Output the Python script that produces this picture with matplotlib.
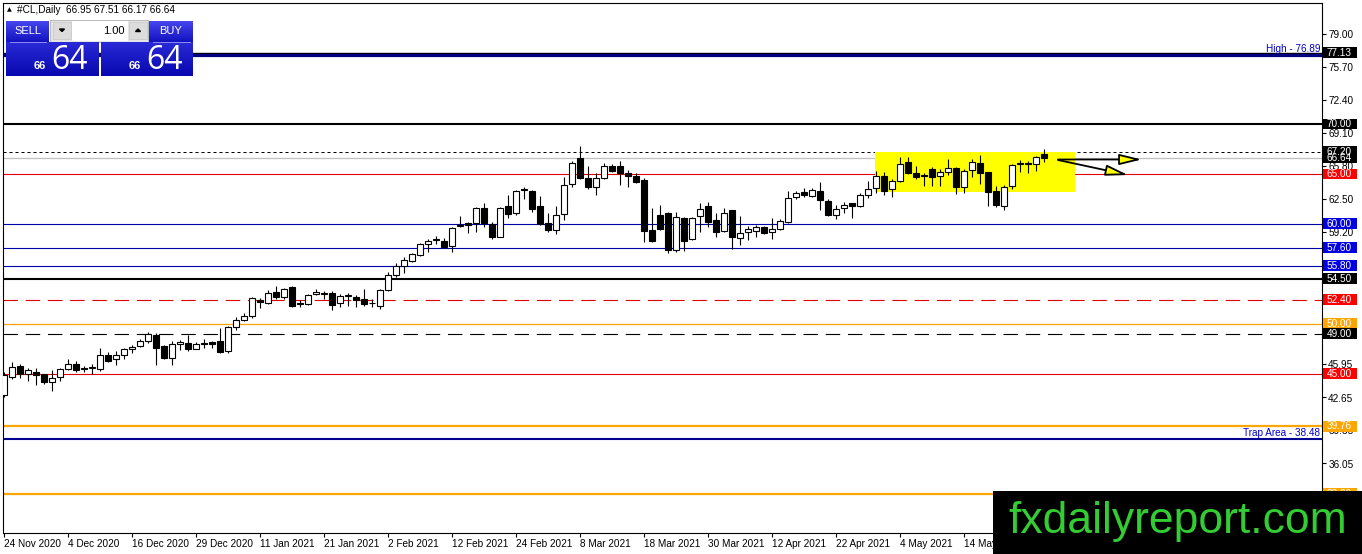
import numpy as np
import matplotlib
matplotlib.use('Agg')
import matplotlib.pyplot as plt
from matplotlib import transforms
from matplotlib.colors import to_rgb
from matplotlib.patches import Rectangle, Polygon

plt.rcParams['font.family'] = ['Liberation Sans', 'DejaVu Sans']

# daily OHLC, 24 Nov 2020 .. end of May 2021
opens = [42.9, 44.7, 45.8, 45.0, 45.2, 45.0, 44.2, 44.7, 45.5, 46.0,
         45.5, 45.6, 45.5, 46.9, 46.5, 46.9, 47.5, 47.8, 48.3, 48.9,
         47.8, 46.6, 48.0, 48.1, 47.5, 48.1, 48.2, 48.3, 47.3, 49.7,
         50.4, 50.8, 52.4, 52.1, 53.2, 52.7, 53.7, 52.0, 52.0, 53.0,
         53.0, 53.1, 52.1, 52.8, 52.7, 52.5, 52.1, 51.8, 53.4, 54.9,
         55.8, 56.3, 56.9, 58.0, 58.4, 58.3, 57.8, 59.8, 60.1, 60.1,
         61.6, 60.0, 58.7, 61.8, 61.1, 63.4, 63.3, 61.8, 60.1, 59.4,
         61.0, 64.0, 66.6, 64.6, 63.7, 64.6, 65.8, 65.8, 65.1, 64.8,
         64.4, 59.4, 60.9, 61.1, 57.4, 60.6, 58.5, 60.8, 61.8, 60.4,
         59.3, 61.4, 58.6, 59.2, 59.3, 59.7, 59.2, 59.5, 60.2, 62.7,
         63.2, 62.8, 63.3, 62.3, 60.9, 61.6, 62.1, 61.8, 62.9, 63.6,
         64.8, 63.5, 64.3, 66.2, 65.1, 64.9, 65.5, 64.8, 65.2, 65.6,
         63.7, 65.4, 66.1, 65.2, 63.3, 61.8, 63.8, 66.0, 66.0, 66.0,
         66.95]
highs = [45.2, 46.2, 46.0, 45.6, 45.6, 45.0, 45.4, 45.6, 46.5, 46.3,
         45.8, 46.0, 47.6, 47.2, 47.3, 47.6, 47.9, 48.5, 49.2, 49.1,
         47.9, 48.3, 48.4, 48.9, 48.2, 48.5, 48.3, 49.6, 49.8, 50.7,
         51.1, 52.7, 52.6, 53.4, 53.8, 53.6, 53.8, 52.4, 53.0, 53.5,
         53.3, 53.3, 53.0, 53.1, 52.9, 53.5, 52.5, 53.5, 55.2, 56.1,
         56.7, 57.1, 58.1, 58.5, 58.8, 58.6, 59.7, 60.8, 60.2, 61.7,
         62.1, 60.2, 61.7, 62.9, 63.4, 63.7, 63.4, 62.8, 61.1, 61.8,
         64.7, 66.3, 67.8, 65.8, 65.1, 66.1, 66.0, 66.3, 65.4, 65.1,
         64.6, 61.6, 61.9, 61.2, 61.2, 60.7, 60.7, 62.1, 62.2, 61.1,
         61.6, 61.4, 60.8, 59.8, 59.9, 59.8, 60.6, 60.5, 63.3, 63.3,
         63.6, 63.6, 64.2, 62.5, 61.9, 62.2, 62.1, 63.1, 64.3, 65.3,
         65.2, 64.5, 66.7, 66.7, 65.8, 65.1, 65.7, 65.5, 66.5, 65.7,
         65.5, 66.5, 66.9, 65.2, 63.8, 63.9, 66.0, 66.4, 66.3, 66.8,
         67.51]
lows = [42.7, 44.5, 44.6, 44.3, 43.9, 44.0, 43.3, 44.3, 45.4, 45.2,
        45.2, 45.0, 45.3, 46.2, 45.9, 46.5, 47.1, 47.7, 48.1, 45.9,
        46.5, 45.9, 47.4, 47.3, 47.5, 47.6, 47.6, 47.1, 47.1, 49.4,
        50.3, 50.6, 51.6, 52.0, 52.5, 52.5, 51.7, 51.7, 51.9, 52.9,
        52.5, 51.4, 51.7, 51.8, 51.7, 51.8, 51.7, 51.5, 53.3, 54.7,
        55.1, 56.2, 56.8, 57.2, 58.0, 57.6, 57.2, 59.7, 59.1, 59.2,
        59.7, 58.5, 58.7, 60.6, 60.9, 62.5, 61.2, 59.9, 59.2, 59.0,
        60.4, 63.7, 64.5, 63.5, 62.9, 64.5, 65.2, 63.9, 63.7, 64.1,
        58.2, 58.2, 59.4, 57.1, 57.2, 57.3, 58.4, 59.2, 59.7, 58.7,
        59.2, 57.5, 57.9, 58.4, 58.7, 59.0, 58.5, 59.4, 60.1, 62.5,
        62.7, 62.7, 61.4, 60.8, 60.5, 61.1, 60.6, 61.7, 62.6, 63.1,
        62.9, 62.7, 64.2, 65.0, 64.5, 63.8, 63.8, 63.8, 64.9, 63.0,
        63.1, 64.7, 64.0, 61.8, 61.7, 61.4, 63.5, 65.2, 65.1, 65.3,
        66.17]
closes = [44.9, 45.7, 45.0, 45.4, 44.9, 44.2, 44.6, 45.5, 46.0, 45.4,
          45.6, 45.65, 46.9, 46.3, 46.9, 47.5, 47.7, 48.3, 49.0, 47.6,
          46.6, 48.0, 48.2, 47.5, 48.0, 48.0, 48.0, 47.2, 49.7, 50.4,
          50.8, 52.6, 52.2, 53.1, 52.7, 53.5, 51.8, 52.1, 52.9, 53.2,
          53.05, 51.9, 52.8, 52.85, 52.4, 52.0, 52.05, 53.4, 54.9, 55.8,
          56.4, 57.0, 58.0, 58.3, 58.45, 57.7, 59.6, 59.9, 59.9, 61.6,
          60.1, 58.7, 61.6, 61.0, 63.3, 63.45, 61.5, 60.0, 59.4, 60.9,
          63.9, 66.1, 64.6, 63.7, 64.6, 65.8, 65.3, 65.1, 64.8, 64.2,
          59.3, 58.3, 59.5, 57.4, 60.7, 58.3, 60.6, 61.5, 60.2, 59.2,
          61.1, 58.7, 59.1, 59.5, 59.7, 59.1, 59.5, 60.3, 62.6, 63.1,
          62.9, 63.4, 62.4, 60.9, 61.5, 61.9, 61.8, 62.9, 63.5, 64.8,
          63.3, 64.3, 66.0, 65.1, 64.7, 64.75, 64.7, 65.2, 65.6, 63.7,
          65.3, 66.2, 65.1, 63.2, 61.9, 63.7, 65.9, 66.1, 66.1, 66.7,
          66.64]

date_labels = ['24 Nov 2020', '4 Dec 2020', '16 Dec 2020', '29 Dec 2020',
               '11 Jan 2021', '21 Jan 2021', '2 Feb 2021', '12 Feb 2021',
               '24 Feb 2021', '8 Mar 2021', '18 Mar 2021', '30 Mar 2021',
               '12 Apr 2021', '22 Apr 2021', '4 May 2021', '14 May 2021']
bars_per_label = 8

ytick_values = [79.00, 75.70, 72.40, 69.10, 65.80, 62.50, 59.20, 55.90,
                52.60, 49.30, 45.95, 42.65, 39.35, 36.05, 32.75]

# horizontal levels drawn on the chart
level_prices = [77.13, 76.89, 70.00, 67.20, 66.64, 65.00, 60.00, 57.60,
                55.80, 54.50, 52.40, 50.00, 49.00, 45.00, 39.76, 38.48, 33.00]
level_kinds = ['black', 'navy', 'black2', 'dots', 'bid', 'red', 'blue', 'blue',
               'blue', 'black2', 'reddash', 'orange', 'blackdash', 'red',
               'orange2', 'trap', 'orange2']

# zone box and the two arrows (bar index, price)
zone_x = (108.9, 133.9)
zone_y = (63.2, 67.15)
arrow_up = ((131.75, 66.45), (142.2, 66.45))
arrow_down = ((131.75, 66.4), (140.5, 64.9))

styles = {
    'black':     dict(color='black', lw=1.0, ls='-', tag='black'),
    'navy':      dict(color='#000080', lw=2.3, ls='-', tag=None),
    'black2':    dict(color='black', lw=1.5, ls='-', tag='black'),
    'dots':      dict(color='black', lw=0.72, ls=(0, (3, 3)), tag='black'),
    'bid':       dict(color='#c0c0c0', lw=0.9, ls='-', tag='black'),
    'red':       dict(color='#e00000', lw=0.8, ls='-', tag='#ff0000'),
    'blue':      dict(color='#0000a8', lw=0.8, ls='-', tag='#0000e0'),
    'reddash':   dict(color='#e00000', lw=0.8, ls=(0, (13, 7)), tag='#ff0000'),
    'orange':    dict(color='#ffa500', lw=0.9, ls='-', tag='#ffa500'),
    'blackdash': dict(color='black', lw=0.8, ls=(0, (13, 7)), tag='black'),
    'orange2':   dict(color='#ffa500', lw=1.6, ls='-', tag='#ffa500'),
    'trap':      dict(color='#000090', lw=1.5, ls='-', tag=None),
}

W, H = 1362, 554
fig = plt.figure(figsize=(W / 100, H / 100), dpi=100, facecolor='white')
ax = fig.add_axes([3 / W, 21 / H, 1319 / W, 530 / H])
ax.set_xlim(-0.125, 164.75)
ax.set_ylim(29.1, 82.1)
for sp in ax.spines.values():
    sp.set_color('black')
    sp.set_linewidth(0.8)

o = np.array(opens)
h = np.array(highs)
l = np.array(lows)
c = np.array(closes)
x = np.arange(len(o))

# levels
for p, k in zip(level_prices, level_kinds):
    s = styles[k]
    ax.axhline(p, color=s['color'], lw=s['lw'], ls=s['ls'], zorder=1)

# yellow zone
ax.add_patch(Rectangle((zone_x[0], zone_y[0]), zone_x[1] - zone_x[0],
                       zone_y[1] - zone_y[0], facecolor='#ffff00',
                       edgecolor='none', zorder=2))

# candles
up = c >= o
ax.vlines(x, l, h, color='black', lw=0.8, zorder=3)
ax.bar(x[up], (c - o)[up], bottom=o[up], width=0.7, color='white',
       edgecolor='black', lw=0.8, zorder=4)
ax.bar(x[~up], (o - c)[~up], bottom=c[~up], width=0.7, color='black',
       edgecolor='black', lw=0.8, zorder=4)

# arrows
for a0, a1 in (arrow_up, arrow_down):
    ax.annotate('', xy=a1, xytext=a0,
                arrowprops=dict(arrowstyle='-|>,head_length=0.9,head_width=0.22',
                                fc='#ffff00', ec='black', lw=1.3,
                                mutation_scale=15, shrinkA=0, shrinkB=0),
                zorder=5)

# axis ticks
ax.set_xticks(np.arange(len(date_labels)) * bars_per_label)
ax.set_xticklabels(date_labels)
for t in ax.get_xticklabels():
    t.set_horizontalalignment('left')
ax.tick_params(axis='x', direction='out', length=3, pad=1.5, labelsize=7.2,
               width=0.8)
ax.yaxis.tick_right()
ax.set_yticks(ytick_values)
ax.set_yticklabels([f'{v:.2f}' for v in ytick_values])
ax.tick_params(axis='y', direction='out', length=3, pad=1.5, labelsize=7.2,
               width=0.8)

# price tags on the right axis
tr = transforms.blended_transform_factory(ax.transAxes, ax.transData)
bid = closes[-1]
order = sorted(range(len(level_prices)),
               key=lambda i: 0 if level_kinds[i] == 'bid' else 1)
for i in order:
    tag = styles[level_kinds[i]]['tag']
    if tag is None:
        continue
    p = level_prices[i]
    ax.add_patch(Rectangle((1.0008, p - 0.55), 0.0255, 1.1, transform=tr,
                           facecolor=tag, edgecolor='none', clip_on=False,
                           zorder=6))
    ax.text(1.0035, p, f'{p:.2f}', transform=tr, ha='left', va='center',
            fontsize=7.2, color='white', clip_on=False, zorder=7)

ax.text(0.9985, 76.95, 'High - 76.89', transform=tr, ha='right', va='bottom',
        fontsize=7.2, color='#0000cc', zorder=6)
ax.text(0.9985, 38.55, 'Trap Area - 38.48', transform=tr, ha='right',
        va='bottom', fontsize=7.2, color='#0000cc', zorder=6)

# overlay in pixel units: header, trade panel, watermark
ov = fig.add_axes([0, 0, 1, 1], zorder=5)
ov.patch.set_alpha(0)
ov.axis('off')


def grad_box(x0, y0, x1, y1, top, bottom):
    g = np.linspace(0, 1, 40)[:, None, None]
    img = np.array(to_rgb(top)) * (1 - g) + np.array(to_rgb(bottom)) * g
    ov.imshow(img, extent=(x0, x1, y1, y0), aspect='auto',
              interpolation='bilinear', zorder=1)


ov.text(7, 10, '\u25b2', fontsize=4.5, family='DejaVu Sans', va='center')
ov.text(17, 10, f'#CL,Daily  {opens[-1]:.2f} {highs[-1]:.2f} '
        f'{lows[-1]:.2f} {closes[-1]:.2f}', fontsize=7.2, va='center')

# sell / buy buttons
grad_box(6, 21, 49, 42, '#4646ee', '#1212c0')
grad_box(149, 21, 193, 42, '#4646ee', '#1212c0')
ov.text(27.5, 30.5, 'SELL', color='white', fontsize=8, ha='center', va='center')
ov.text(171, 30.5, 'BUY', color='white', fontsize=8, ha='center', va='center')
ov.plot([10, 46], [41.5, 41.5], color='#8c8cf0', lw=0.7, zorder=2)
ov.plot([153, 190], [41.5, 41.5], color='#8c8cf0', lw=0.7, zorder=2)

# lot field
ov.add_patch(Rectangle((50, 20), 98, 22, facecolor='#e4e4e4',
                       edgecolor='#b0b0b0', lw=0.6, zorder=1))
ov.add_patch(Rectangle((72, 20.5), 56, 20, facecolor='white',
                       edgecolor='none', zorder=2))
ov.add_patch(Rectangle((53, 22), 18, 17, facecolor='#dcdcdc',
                       edgecolor='#c8c8c8', lw=0.5, zorder=2))
ov.add_patch(Rectangle((129, 22), 18, 17, facecolor='#dcdcdc',
                       edgecolor='#c8c8c8', lw=0.5, zorder=2))
ov.add_patch(Polygon([[59.5, 29], [64.5, 29], [62, 31.5]], color='black', zorder=3))
ov.add_patch(Polygon([[135.5, 31.5], [140.5, 31.5], [138, 29]], color='black', zorder=3))
ov.text(125, 30.5, '1.00', fontsize=8, ha='right', va='center', zorder=3)

# price boxes
big = f'{bid:.2f}'
grad_box(6, 42, 99, 76, '#2a2ad6', '#0808b0')
grad_box(101, 42, 193, 76, '#2a2ad6', '#0808b0')
for x0 in (6, 101):
    ov.text(x0 + 40, 69, big[:2], color='white', fontsize=8, fontweight='bold',
            ha='right', va='baseline', zorder=3)
    ov.text(x0 + 45, 69, big[3:], color='white', fontsize=23,
            family='Open Sans', ha='left', va='baseline', zorder=3)

# watermark
ov.add_patch(Rectangle((993, 491), 369, 63, facecolor='black',
                       edgecolor='none', zorder=8))
ov.text(1178, 522, 'fxdailyreport.com', color='#33cc33', fontsize=32,
        ha='center', va='center', zorder=9)

ov.set_xlim(0, W)
ov.set_ylim(H, 0)

fig.savefig('out.png', dpi=100, facecolor='white')
